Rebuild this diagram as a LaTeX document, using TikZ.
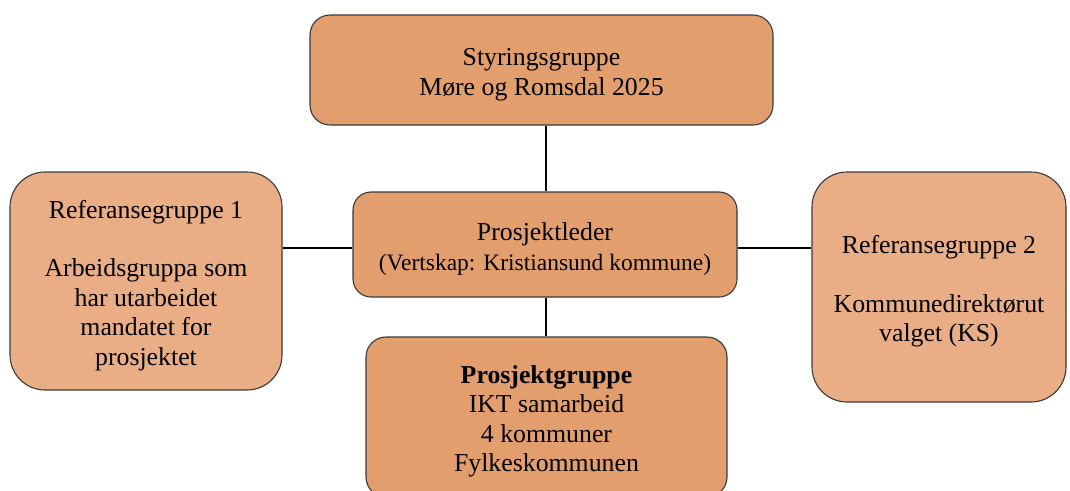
\documentclass[tikz,border=0pt]{standalone}
\usepackage{fontspec}
\setmainfont{Liberation Serif}
\definecolor{boxdark}{HTML}{E29F6D}
\definecolor{boxlight}{HTML}{E9AE86}
\definecolor{edge}{HTML}{3A3A3A}
\begin{document}
\begin{tikzpicture}[x=1pt,y=-1pt,
  orgbox/.style={draw=edge,line width=1.1pt,inner sep=0pt},
  orgtext/.style={align=center,inner sep=0pt,yshift=-4.5pt,
    font=\fontsize{25.8}{29.5}\selectfont},
  link/.style={draw=black,line width=2pt}]
\useasboundingbox[fill=white] (0,0) rectangle (1070,490);
\node[orgbox,fill=boxdark,rounded corners=20pt,minimum width=463pt,minimum height=110pt]
  (sty) at (541.5,70) {};
\node[orgtext] (styt) at (sty.center) {Styringsgruppe\\Møre og Romsdal 2025};
\node[orgbox,fill=boxdark,rounded corners=18pt,minimum width=384pt,minimum height=105pt]
  (pl) at (545,244.5) {};
\node[orgtext] (plt) at (pl.center) {Prosjektleder\\{\fontsize{23.5}{29}\selectfont(Vertskap: Kristiansund kommune)}};
\node[orgbox,fill=boxlight,rounded corners=35pt,minimum width=272pt,minimum height=218pt]
  (ref1) at (146,281) {};
\node[orgtext] (ref1t) at (ref1.center) {Referansegruppe 1\\[29pt]Arbeidsgruppa som\\har utarbeidet\\mandatet for\\prosjektet};
\node[orgbox,fill=boxlight,rounded corners=35pt,minimum width=254pt,minimum height=230pt]
  (ref2) at (939,287) {};
\node[orgtext] (ref2t) at (ref2.center) {Referansegruppe 2\\[29pt]Kommunedirektørut\\valget (KS)};
\node[orgbox,fill=boxdark,rounded corners=20pt,minimum width=361pt,minimum height=160pt]
  (pg) at (546.5,417) {};
\node[orgtext] (pgt) at (pg.center) {\textbf{Prosjektgruppe}\\IKT samarbeid\\4 kommuner\\Fylkeskommunen};
\draw[link] (sty.south -| 546,0) -- (pl.north -| 546,0);
\draw[link] (pl.south -| 546,0) -- (pg.north -| 546,0);
\draw[link] (ref1.east |- 0,248) -- (pl.west |- 0,248);
\draw[link] (pl.east |- 0,248) -- (ref2.west |- 0,248);
\end{tikzpicture}
\end{document}
